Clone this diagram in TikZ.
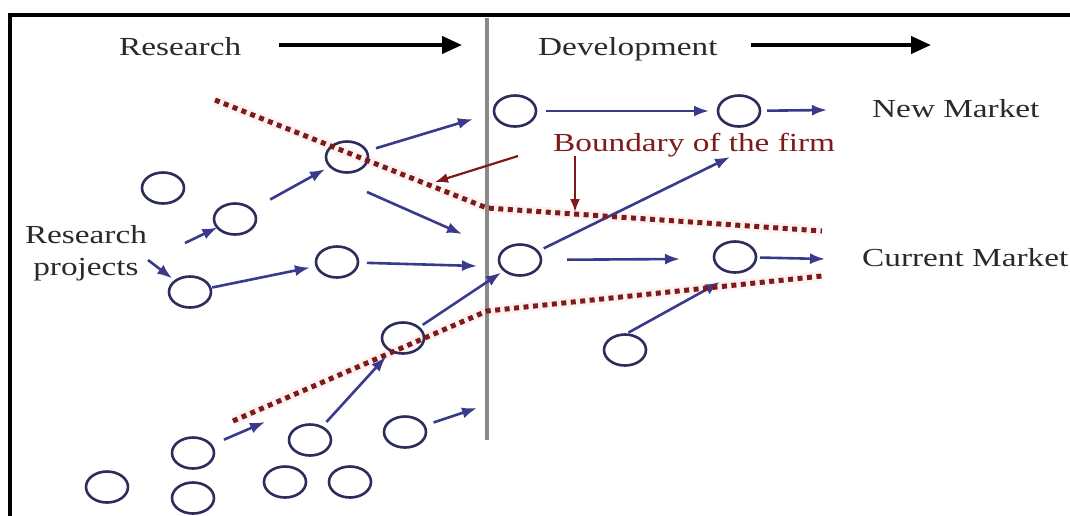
\documentclass[tikz,border=0pt]{standalone}
\usepackage{fontspec}
\setmainfont{Liberation Serif}[FakeStretch=1.28]
\usetikzlibrary{shapes.geometric,arrows.meta}
\definecolor{circ}{HTML}{2B2D5C}
\definecolor{arr}{HTML}{3A3A8C}
\definecolor{bnd}{HTML}{7E1A1A}
\definecolor{txt}{HTML}{2A2A2A}
\definecolor{vline}{HTML}{8A8A8A}
\definecolor{halo}{HTML}{FDF2F2}
\tikzset{
  proj/.style={ellipse, draw=circ, line width=2.6pt, minimum width=42pt, minimum height=31pt, inner sep=0pt, outer sep=0pt},
  flow/.style={draw=arr, line width=2.6pt, -{Latex[length=15pt,width=11pt]}},
  bndline/.style={draw=bnd, line width=5pt, dash pattern=on 5pt off 4.5pt},
  bndhalo/.style={draw=halo, line width=10pt},
  bndarrow/.style={draw=bnd, line width=2.2pt, -{Latex[length=13pt,width=10pt]}},
  phase/.style={draw=black, line width=4pt, -{Triangle[length=20pt,width=17pt]}},
  lab/.style={font=\fontsize{26pt}{32pt}\selectfont, text=txt, inner sep=0pt}
}
\begin{document}
\begin{tikzpicture}[x=1pt,y=-1pt]
\useasboundingbox (0,0) rectangle (1070,515);
\fill[white] (0,0) rectangle (1070,515);
% frame
\coordinate (fbl) at (10,518);
\coordinate (ftl) at (10,15);
\coordinate (ftr) at (1073,15);
\draw[line width=4.5pt] (fbl) -- (ftl) -- (ftr);
% boundary coordinates
\coordinate (d1a) at (215,100);
\coordinate (d1b) at (487,208);
\coordinate (d1c) at (822,231);
\coordinate (d2a) at (233,421);
\coordinate (d2b) at (487,311);
\coordinate (d2c) at (822,276);
\draw[bndhalo] (d1a) -- (d1b) -- (d1c);
\draw[bndhalo] (d2a) -- (d2b) -- (d2c);
% research / development divider
\coordinate (v1) at (487,18);
\coordinate (v2) at (487,440);
\draw[draw=vline, line width=3.5pt] (v1) -- (v2);
% project circles
\node[proj] (c1) at (515,111) {};
\node[proj] (c2) at (739,111) {};
\node[proj] (c3) at (347,157) {};
\node[proj] (c4) at (163,188) {};
\node[proj] (c5) at (235,219) {};
\node[proj] (c6) at (337,262) {};
\node[proj] (c7) at (190,292) {};
\node[proj] (c8) at (520,260) {};
\node[proj] (c9) at (735,257) {};
\node[proj] (c10) at (403,338) {};
\node[proj] (c11) at (625,350) {};
\node[proj] (c12) at (310,440) {};
\node[proj] (c13) at (405,432) {};
\node[proj] (c14) at (193,453) {};
\node[proj] (c15) at (107,487) {};
\node[proj] (c16) at (193,498) {};
\node[proj] (c17) at (285,482) {};
\node[proj] (c18) at (350,482) {};
% labels
\node[lab, anchor=base west] (rhead) at (119,55) {Research};
\node[lab, anchor=base west] (dhead) at (538,55) {Development};
\node[lab, anchor=base west] (newm) at (872,117) {New Market};
\node[lab, anchor=base west] (curm) at (862,266) {Current Market};
\node[lab, text=bnd, anchor=base west] (bf) at (553,151) {Boundary of the firm};
\node[lab, align=center] (rp) at (86,253) {Research\\projects};
% phase arrows
\coordinate (p1s) at (279,45);
\coordinate (p1e) at (462,45);
\coordinate (p2s) at (751,45);
\coordinate (p2e) at (931,45);
\draw[phase] (p1s) -- (p1e);
\draw[phase] (p2s) -- (p2e);
% free arrow ends
\coordinate (nm) at (827,110);
\coordinate (a3) at (473,119);
\coordinate (a4s) at (367,192);
\coordinate (a4) at (462,234);
\coordinate (a6s) at (185,243);
\coordinate (a7s) at (148,260);
\coordinate (a9) at (477,266);
\coordinate (a10) at (730,157);
\coordinate (a11) at (680,259);
\coordinate (cm) at (825,259);
\coordinate (a13) at (720,282);
\coordinate (a16) at (477,408);
\coordinate (a17) at (265,422);
% flows
\draw[flow, shorten <=10pt, shorten >=9pt] (c1) -- (c2);
\draw[flow, shorten <=7pt] (c2) -- (nm);
\draw[flow, shorten <=10pt] (c3) -- (a3);
\draw[flow] (a4s) -- (a4);
\draw[flow, shorten <=21pt, shorten >=6pt] (c5) -- (c3);
\draw[flow] (a6s) -- (c5);
\draw[flow, shorten >=4pt] (a7s) -- (c7);
\draw[flow, shorten <=2pt, shorten >=7pt] (c7) -- (c6);
\draw[flow, shorten <=9pt] (c6) -- (a9);
\draw[flow, shorten <=7pt] (c8) -- (a10);
\draw[flow, shorten <=26pt] (c8) -- (a11);
\draw[flow, shorten <=4pt] (c9) -- (cm);
\draw[flow, shorten <=4pt] (c11.north) -- (a13);
\draw[flow, shorten <=5pt, shorten >=4pt] (c10) -- (c8);
\draw[flow, shorten <=7pt, shorten >=8pt] (c12) -- (c10);
\draw[flow, shorten <=10pt] (c13) -- (a16);
\draw[flow, shorten <=14pt] (c14) -- (a17);
% boundary lines
\draw[bndline] (d1a) -- (d1b) -- (d1c);
\draw[bndline] (d2a) -- (d2b) -- (d2c);
% boundary pointers
\coordinate (r1s) at (518,156);
\coordinate (r1e) at (435,182);
\coordinate (r2s) at (575,156);
\coordinate (r2e) at (575,212);
\draw[bndarrow] (r1s) -- (r1e);
\draw[bndarrow] (r2s) -- (r2e);
\end{tikzpicture}
\end{document}
